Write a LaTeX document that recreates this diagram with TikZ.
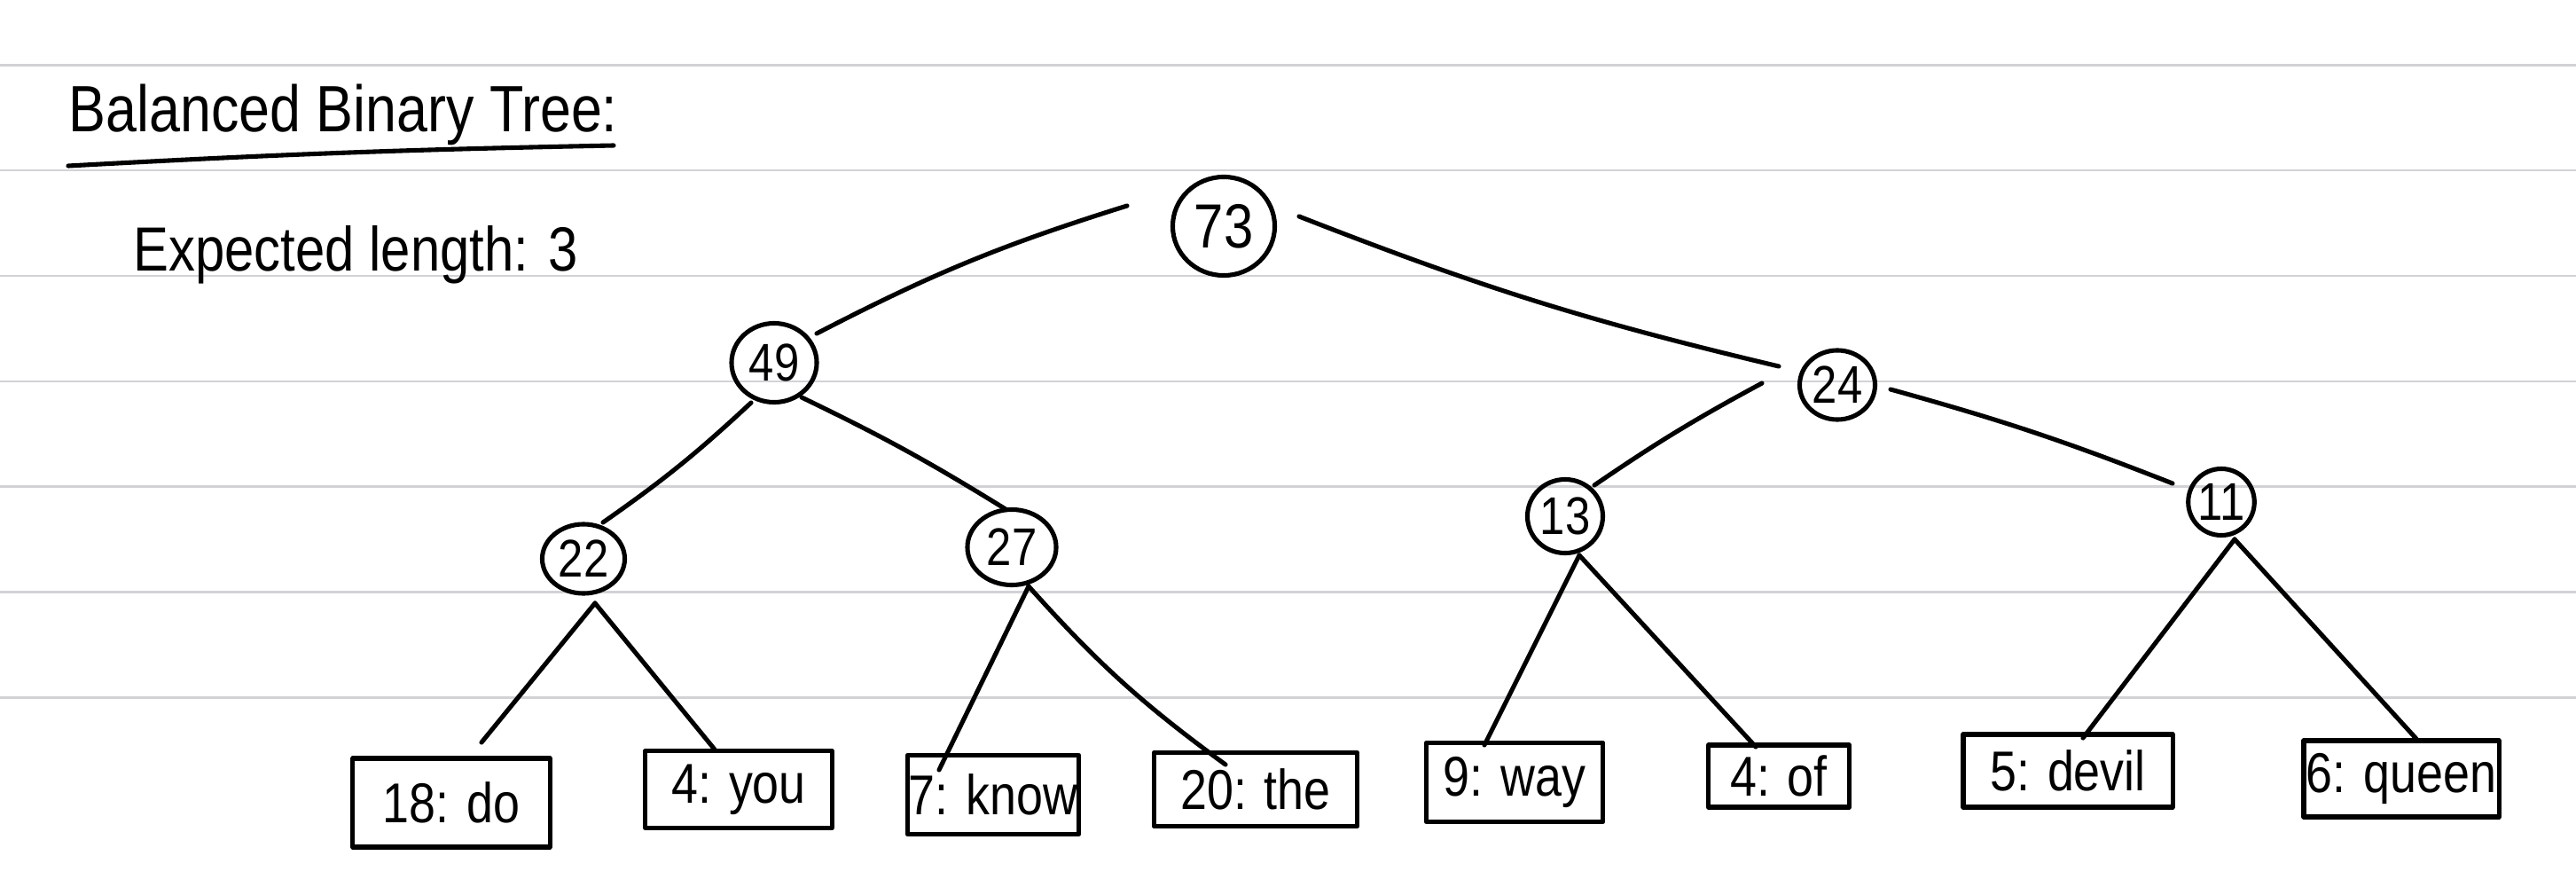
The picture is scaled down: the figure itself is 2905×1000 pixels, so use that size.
\documentclass[tikz,border=0pt]{standalone}
\usepackage{fontspec}
\setmainfont{Liberation Sans}[FakeStretch=0.85]
\usetikzlibrary{shapes.geometric,calc}
\definecolor{ruleGray}{RGB}{210,210,214}
\begin{document}
\begin{tikzpicture}[x=0.01cm,y=-0.01cm,
  rule/.style={draw=ruleGray, line width=0.85pt},
  ink/.style={line width=1.45pt, line cap=round, line join=round},
  tnode/.style={ellipse, draw, ink, inner sep=0pt, font=\fontsize{17}{20}\selectfont},
  leaf/.style={rectangle, draw, ink, inner sep=0pt, font=\fontsize{18}{22}\selectfont},
  edge/.style={ink}]
\fill[white] (0,0) rectangle (2905,1000);
\useasboundingbox (0,0) rectangle (2905,1000);
\foreach \yy in {73.5,192,311,430,548.5,667,786} \draw[rule] (0,\yy) -- (2905,\yy);

% heading
\node[anchor=base west, inner sep=0pt, font=\fontsize{21}{24}\selectfont] (title) at (77,148) {Balanced Binary Tree:};
\draw[ink] ($(title.base west)+(0,39)$) to[bend left=1] ($(title.base west)+(615,16)$);
\node[anchor=base west, inner sep=0pt, font=\fontsize{20}{23}\selectfont] (exp) at (150,305) {Expected length: 3};

% internal nodes
\node[tnode, minimum width=1.15cm, minimum height=1.11cm, font=\fontsize{20}{22}\selectfont] (n73) at (1380,255) {73};
\node[tnode, minimum width=0.96cm, minimum height=0.89cm] (n49) at (873,409) {49};
\node[tnode, minimum width=0.85cm, minimum height=0.78cm] (n24) at (2072,434) {24};
\node[tnode, minimum width=0.93cm, minimum height=0.78cm] (n22) at (658,630) {22};
\node[tnode, minimum width=1.00cm, minimum height=0.85cm] (n27) at (1141,617) {27};
\node[tnode, minimum width=0.85cm, minimum height=0.83cm] (n13) at (1765,582) {13};
\node[tnode, minimum width=0.71cm, minimum height=0.75cm] (n11) at (2505,566) {11};

% leaves
\node[leaf, minimum width=2.22cm, minimum height=1.00cm] (l1) at (509,905) {18: do};
\node[leaf, minimum width=2.10cm, minimum height=0.87cm] (l2) at (833,890) {4: you};
\node[leaf, minimum width=1.93cm, minimum height=0.89cm] (l3) at (1120,896) {7: know};
\node[leaf, minimum width=2.29cm, minimum height=0.83cm] (l4) at (1416,890) {20: the};
\node[leaf, minimum width=1.99cm, minimum height=0.89cm] (l5) at (1708,882) {9: way};
\node[leaf, minimum width=1.59cm, minimum height=0.70cm] (l6) at (2006,875) {4: of};
\node[leaf, minimum width=2.36cm, minimum height=0.82cm] (l7) at (2332,869) {5: devil};
\node[leaf, minimum width=2.20cm, minimum height=0.86cm] (l8) at (2708,878) {6: queen};

% edges between internal nodes
\draw[edge] ($(n73)+(-109,-23)$) to[bend right=5] ($(n49)+(48,-33)$);
\draw[edge] ($(n73)+(85,-11)$) to[bend right=4] ($(n24)+(-66,-21)$);
\draw[edge] ($(n49)+(-26,45)$) to[bend left=4] ($(n22)+(22,-41)$);
\draw[edge] ($(n49)+(31,39)$) to[bend left=3] ($(n27)+(-7,-43)$);
\draw[edge] ($(n24)+(-85,-2)$) to[bend right=3] ($(n13)+(33,-35)$);
\draw[edge] ($(n24)+(60,5)$) to[bend left=3] ($(n11)+(-55,-21)$);

% edges to leaves
\draw[edge] ($(n22)+(13,50)$) -- ($(l1)+(34,-68)$);
\draw[edge] ($(n22)+(13,50)$) -- ($(l2)+(-27,-45)$);
\draw[edge] ($(n27)+(19,44)$) -- ($(l3)+(-61,-28)$);
\draw[edge] ($(n27)+(19,44)$) to[bend right=6] ($(l4)+(-34,-28)$);
\draw[edge] ($(n13)+(16,44)$) -- ($(l5)+(-34,-42)$);
\draw[edge] ($(n13)+(16,44)$) -- ($(l6)+(-26,-33)$);
\draw[edge] ($(n11)+(15,42)$) -- ($(l7)+(17,-37)$);
\draw[edge] ($(n11)+(15,42)$) -- ($(l8)+(17,-45)$);
\end{tikzpicture}
\end{document}
